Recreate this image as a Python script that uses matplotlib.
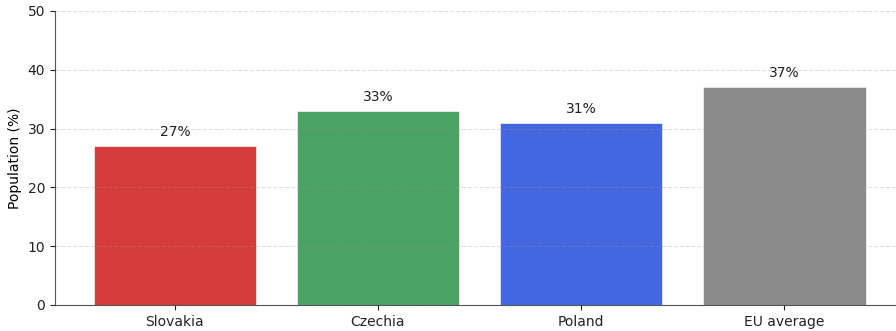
import matplotlib.pyplot as plt

countries = ['Slovakia', 'Czechia', 'Poland', 'EU average']
share = [27, 33, 31, 37]
colors = ['#d63b3b', '#4aa364', '#4467e0', '#8a8a8a']

fig = plt.figure(figsize=(8.96, 3.31), dpi=100)
ax = fig.add_axes([55 / 896, 26 / 331, 1 - 55 / 896, 294 / 331])

bars = ax.bar(range(len(countries)), share, width=0.8, color=colors,
              edgecolor='#f4f4f4', linewidth=0.5, zorder=2)
for b, v in zip(bars, share):
    ax.text(b.get_x() + b.get_width() / 2, v + 1.2, f'{v}%', ha='center', va='bottom',
            fontsize=10, color='#222222')

ax.set_xticks(range(len(countries)))
ax.set_xticklabels(countries, fontsize=10)
ax.tick_params(axis='both', labelsize=10, colors='#222222')
ax.set_ylim(0, 50)
ax.set_xlim(-0.59, 3.55)
ax.set_ylabel('Population (%)', fontsize=10)
# dashed grid sits on top of the bars, faint enough to show through
ax.yaxis.grid(True, linestyle='--', color='#999999', alpha=0.3, linewidth=0.8, zorder=3)
ax.set_axisbelow(False)
for s in ['top', 'right']:
    ax.spines[s].set_visible(False)
ax.spines['left'].set_color('#555555')
ax.spines['bottom'].set_color('#555555')

fig.savefig('out.png', dpi=100)
